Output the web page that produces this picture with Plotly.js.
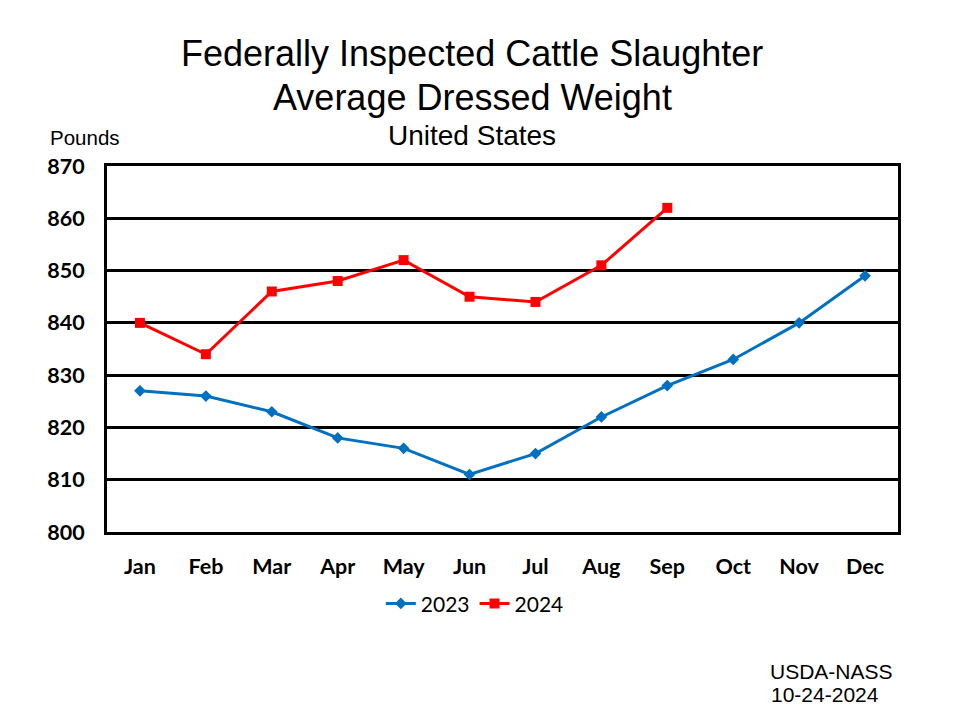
<!DOCTYPE html>
<html>
<head>
<meta charset="utf-8">
<script src="https://cdn.plot.ly/plotly-3.0.1.min.js"></script>
<style>html,body{margin:0;padding:0;background:#fff;}#chart{width:960px;height:720px;}</style>
</head>
<body>
<div id="chart"></div>
<script>
const months = ["Jan","Feb","Mar","Apr","May","Jun","Jul","Aug","Sep","Oct","Nov","Dec"];
const months2024 = ["Jan","Feb","Mar","Apr","May","Jun","Jul","Aug","Sep"];
const weights2023 = [827,826,823,818,816,811,815,822,828,833,840,849];
const weights2024 = [840,834,846,848,852,845,844,851,862];
const yTicks = [800,810,820,830,840,850,860,870];

const traces = [
  {x: months, y: weights2023, name: "2023", type: "scatter", mode: "lines+markers",
   line: {color: "#0070C0", width: 3}, marker: {symbol: "diamond", size: 9, color: "#0070C0"}},
  {x: months2024, y: weights2024, name: "2024", type: "scatter", mode: "lines+markers",
   line: {color: "#FF0000", width: 3}, marker: {symbol: "square", size: 10, color: "#FF0000"}}
];

const tickFont = {family: "Lato, 'Open Sans', sans-serif", size: 21.5, color: "#000", weight: "bold"};

const layout = {
  width: 960, height: 720,
  margin: {l: 107, r: 62, t: 166, b: 188},
  paper_bgcolor: "#fff", plot_bgcolor: "#fff",
  showlegend: true,
  legend: {orientation: "h", x: 0.465, xanchor: "center", y: -0.14, yanchor: "top",
           font: {family: "Lato, 'Open Sans', sans-serif", size: 21, color: "#000"}, itemwidth: 30, tracegroupgap: 0},
  xaxis: {type: "category", categoryarray: months, showgrid: false, zeroline: false,
          showline: true, linecolor: "#000", linewidth: 3, mirror: true, ticks: "",
          range: [-0.5, 11.5], tickfont: tickFont, ticklabelstandoff: 13},
  yaxis: {range: [800, 870], tickvals: yTicks, showgrid: true, gridcolor: "#000", gridwidth: 3,
          zeroline: false, showline: true, linecolor: "#000", linewidth: 3, mirror: true, ticks: "",
          tickfont: tickFont, ticklabelstandoff: 15},
  annotations: [
    {text: "Federally Inspected Cattle Slaughter", x: 472, y: 53, size: 36},
    {text: "Average Dressed Weight", x: 472, y: 97, size: 36},
    {text: "United States", x: 472, y: 135, size: 28},
    {text: "Pounds", x: 85, y: 137, size: 20.5},
    {text: "USDA-NASS", x: 831, y: 671, size: 21},
    {text: "10-24-2024", x: 825, y: 694, size: 21}
  ].map(a => ({
    text: a.text, showarrow: false, xref: "paper", yref: "paper",
    x: (a.x - 107) / (960 - 107 - 62), y: 1 - (a.y - 166) / (720 - 166 - 188),
    xanchor: "center", yanchor: "middle",
    font: {family: "'Liberation Sans', Arial, sans-serif", size: a.size, color: "#000"}
  }))
};

Plotly.newPlot("chart", traces, layout, {displayModeBar: false, staticPlot: true});
</script>
</body>
</html>
